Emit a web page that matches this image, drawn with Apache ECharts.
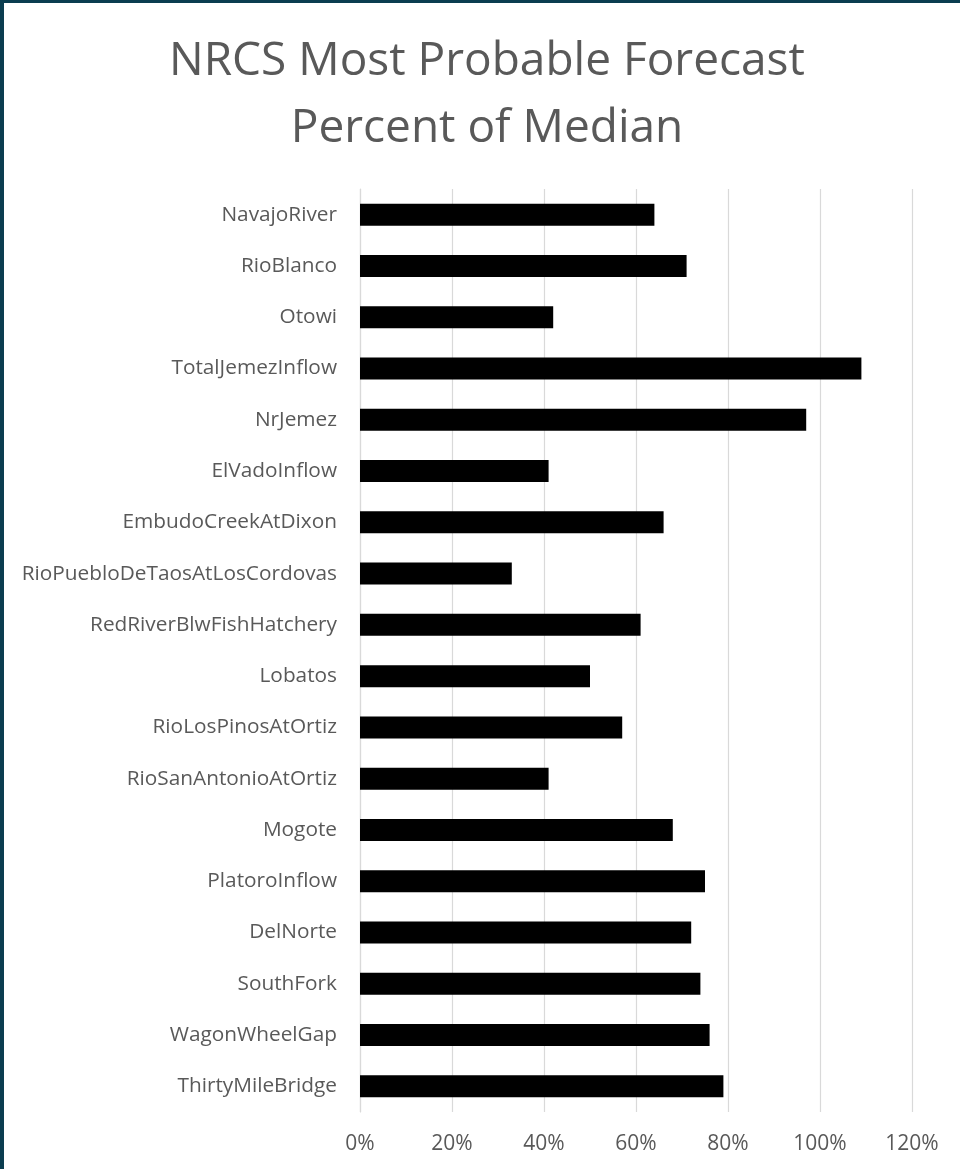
<!DOCTYPE html>
<html>
<head>
<meta charset="utf-8">
<script src="https://cdn.jsdelivr.net/npm/echarts@6/dist/echarts.min.js"></script>
<style>
  html, body { margin: 0; padding: 0; background: #ffffff; }
  #chart { position: absolute; left: 0; top: 0; width: 960px; height: 1169px; }
  .bt { position: absolute; left: 0; top: 0; width: 960px; height: 3px; background: #0b3d50; }
  .bl { position: absolute; left: 0; top: 0; width: 4px; height: 1169px; background: #0b3d50; }
</style>
</head>
<body>
<div id="chart"></div>
<div class="bt"></div>
<div class="bl"></div>
<script>
const titleLines = ["NRCS Most Probable Forecast", "Percent of Median"];
const categories = [
  "NavajoRiver", "RioBlanco", "Otowi", "TotalJemezInflow", "NrJemez",
  "ElVadoInflow", "EmbudoCreekAtDixon", "RioPuebloDeTaosAtLosCordovas",
  "RedRiverBlwFishHatchery", "Lobatos", "RioLosPinosAtOrtiz",
  "RioSanAntonioAtOrtiz", "Mogote", "PlatoroInflow", "DelNorte",
  "SouthFork", "WagonWheelGap", "ThirtyMileBridge"
];
const percentOfMedian = [64, 71, 42, 109, 97, 41, 66, 33, 61, 50, 57, 41, 68, 75, 72, 74, 76, 79];
const xTicks = { min: 0, max: 120, interval: 20 };

const chart = echarts.init(document.getElementById('chart'));
chart.setOption({
  backgroundColor: '#ffffff',
  animation: false,
  title: {
    text: titleLines.join('\n'),
    left: 487,
    top: 28,
    textAlign: 'center',
    padding: 0,
    textStyle: {
      fontFamily: 'Open Sans',
      fontSize: 46,
      fontWeight: 'normal',
      lineHeight: 67,
      color: '#595959'
    }
  },
  grid: { left: 360, right: 48, top: 189, bottom: 57, containLabel: false },
  xAxis: {
    type: 'value',
    min: xTicks.min,
    max: xTicks.max,
    interval: xTicks.interval,
    axisLine: { show: false },
    axisTick: { show: false },
    splitLine: { show: true, lineStyle: { color: '#d9d9d9', width: 1.2 } },
    axisLabel: {
      formatter: '{value}%',
      margin: 22,
      fontFamily: 'Open Sans',
      fontSize: 21,
      lineHeight: 21,
      color: '#595959'
    }
  },
  yAxis: {
    type: 'category',
    data: categories,
    inverse: true,
    axisLine: { show: true, lineStyle: { color: '#d9d9d9', width: 1.2 } },
    axisTick: { show: false },
    splitLine: { show: false },
    axisLabel: {
      margin: 23,
      fontFamily: 'Open Sans',
      fontSize: 20.8,
      color: '#595959'
    }
  },
  series: [{
    type: 'bar',
    data: percentOfMedian,
    barWidth: 22,
    itemStyle: { color: '#000000' }
  }]
});
</script>
</body>
</html>
